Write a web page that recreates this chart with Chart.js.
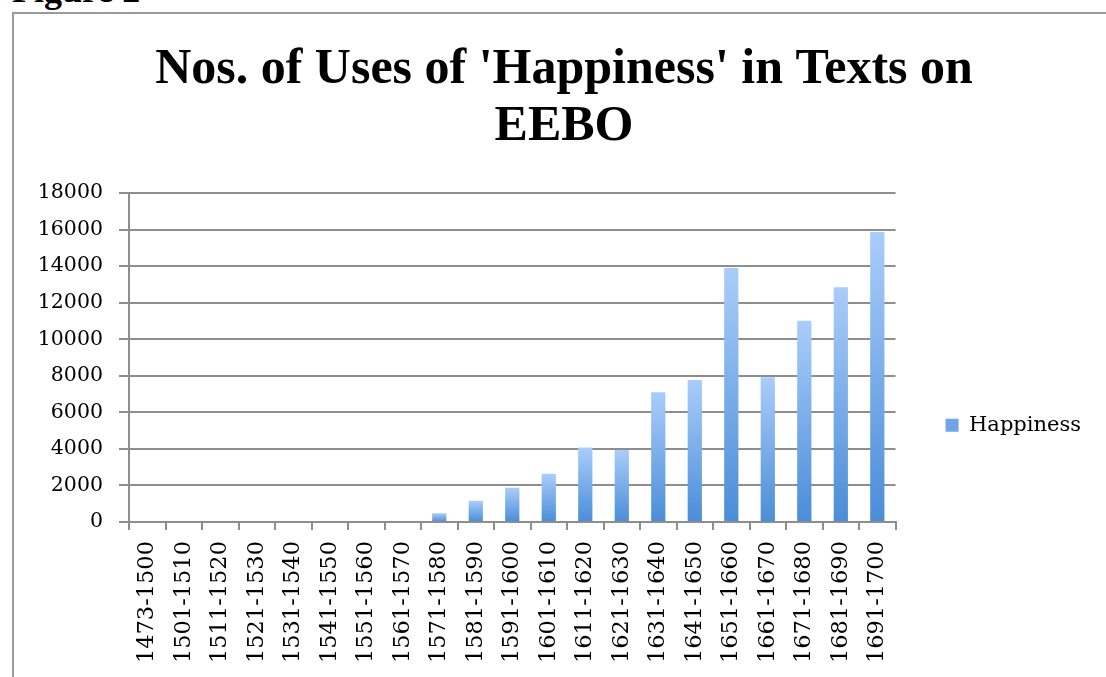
<!DOCTYPE html>
<html>
<head>
<meta charset="utf-8">
<script src="https://cdn.jsdelivr.net/npm/chart.js@4/dist/chart.umd.min.js"></script>
<style>
  html, body { margin: 0; padding: 0; background: #fff; overflow: hidden; width: 1106px; height: 677px; }
  #fig { position: absolute; left: 12px; top: -28px; font: bold 36px "Liberation Serif", serif; line-height: 36px; color: #000; white-space: nowrap; }
  #frame { position: absolute; left: 12px; top: 12px; width: 1092px; height: 663px; border-top: 2px solid #9a9a9a; border-left: 2px solid #9a9a9a; }
  canvas { display: block; }
</style>
</head>
<body>
<div id="fig">Figure 2</div>
<div id="frame"><canvas id="c" width="1092" height="663" style="width:1092px;height:663px"></canvas></div>
<script>
const titleLines = ["Nos. of Uses of 'Happiness' in Texts on", "EEBO"];
const seriesName = "Happiness";
const categories = ["1473-1500","1501-1510","1511-1520","1521-1530","1531-1540","1541-1550","1551-1560","1561-1570","1571-1580","1581-1590","1591-1600","1601-1610","1611-1620","1621-1630","1631-1640","1641-1650","1651-1660","1661-1670","1671-1680","1681-1690","1691-1700"];
const happiness = [0,0,0,0,0,0,0,0,480,1160,1880,2640,4070,3940,7100,7770,13900,7920,11010,12840,15870];
const yMin = 0, yMax = 18000, yStep = 2000;

const GRID = '#8e8e8e';
function barFill(ctx) {
  const chart = ctx.chart;
  if (ctx.type !== 'data' || !chart.chartArea) return '#6fa5e6';
  const y = chart.scales.y;
  const top = y.getPixelForValue(ctx.raw);
  const bottom = y.getPixelForValue(0);
  if (!(bottom - top > 0.5)) return '#6fa5e6';
  const g = chart.ctx.createLinearGradient(0, top, 0, bottom);
  g.addColorStop(0, '#aacdfa');
  g.addColorStop(1, '#4a8dd8');
  return g;
}

Chart.defaults.font.family = '"DejaVu Serif", serif';
Chart.defaults.color = '#000';

new Chart(document.getElementById('c'), {
  type: 'bar',
  data: {
    labels: categories,
    datasets: [{
      label: seriesName,
      data: happiness,
      backgroundColor: barFill,
      borderWidth: 0,
      categoryPercentage: 1,
      barPercentage: 0.39
    }]
  },
  options: {
    responsive: false,
    animation: false,
    layout: { padding: { left: 23, right: 15, top: 0, bottom: 5 } },
    plugins: {
      title: {
        display: true,
        text: titleLines,
        color: '#000',
        font: { family: '"Liberation Serif", serif', size: 50, weight: 'bold', lineHeight: 1.14 },
        padding: { top: 28, bottom: 37 }
      },
      legend: {
        display: true,
        position: 'right',
        fullSize: false,
        align: 'center',
        title: { display: true, text: '', font: { size: 12 }, padding: { top: 121, bottom: 0 } },
        labels: {
          boxWidth: 13,
          boxHeight: 13,
          padding: 50,
          color: '#000',
          font: { family: '"DejaVu Serif", serif', size: 21 }
        }
      },
      tooltip: { enabled: false }
    },
    scales: {
      x: {
        offset: true,
        afterFit: (s) => { s.height = 150; },
        grid: { display: true, drawOnChartArea: false, drawTicks: true, tickLength: 8, color: GRID, lineWidth: 2, offset: true },
        border: { display: true, color: GRID, width: 2 },
        ticks: {
          autoSkip: false, minRotation: 90, maxRotation: 90, padding: 11,
          color: '#000', font: { family: '"DejaVu Serif", serif', size: 22.5 }
        }
      },
      y: {
        min: yMin, max: yMax,
        afterFit: (s) => { s.width = 92; },
        grid: { color: GRID, lineWidth: 2, drawTicks: true, tickLength: 10 },
        border: { display: true, color: GRID, width: 2 },
        ticks: {
          stepSize: yStep, padding: 16, color: '#000',
          font: { family: '"DejaVu Serif", serif', size: 20.5 },
          callback: (v) => String(v)
        }
      }
    }
  }
});
</script>
</body>
</html>
